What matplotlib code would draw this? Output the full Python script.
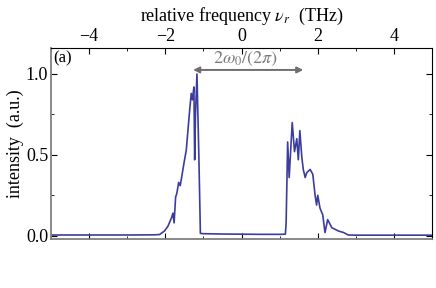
import numpy as np
import matplotlib
matplotlib.use("Agg")
import matplotlib.pyplot as plt

plt.rcParams['font.family'] = ['Liberation Serif', 'DejaVu Serif']
plt.rcParams['mathtext.fontset'] = 'stix'

# spectrum: relative frequency (THz) vs intensity (a.u.)
freq = [-5.0, -3.0, -2.3, -2.15, -2.02, -1.93, -1.84, -1.80, -1.77, -1.73, -1.70,
        -1.65, -1.61, -1.58, -1.51, -1.45, -1.40, -1.36, -1.32, -1.29, -1.25,
        -1.23, -1.21, -1.17, -1.12, -1.08, -1.0, -0.5, 0.0, 0.5, 1.0, 1.15,
        1.17, 1.21, 1.25, 1.33, 1.39, 1.45, 1.49, 1.53, 1.58, 1.62, 1.67, 1.71,
        1.80, 1.87, 1.93, 1.97, 2.00, 2.06, 2.13, 2.19, 2.26, 2.37, 2.54, 2.68,
        2.80, 3.0, 4.0, 5.0]
intensity = [0.005, 0.005, 0.006, 0.008, 0.03, 0.06, 0.11, 0.14, 0.08, 0.24, 0.26,
             0.33, 0.31, 0.35, 0.45, 0.53, 0.67, 0.78, 0.88, 0.84, 0.92,
             0.47, 0.74, 1.0, 0.49, 0.015, 0.013, 0.011, 0.01, 0.009, 0.009, 0.01,
             0.08, 0.58, 0.36, 0.70, 0.52, 0.60, 0.47, 0.65, 0.49, 0.41, 0.36, 0.39,
             0.41, 0.38, 0.25, 0.19, 0.25, 0.17, 0.13, 0.02, 0.10, 0.05, 0.03, 0.02,
             0.005, 0.004, 0.004, 0.004]

fig = plt.figure(figsize=(4.36, 2.88), dpi=100)
ax = fig.add_axes([0.117, 0.170, 0.874, 0.663])

ax.plot(freq, intensity, color='#3b3d9e', lw=1.2)

ax.set_xlim(-5, 5)
ax.set_ylim(-0.02, 1.16)

ax.xaxis.tick_top()
ax.xaxis.set_label_position('top')
ax.set_xticks([-4, -2, 0, 2, 4])
ax.set_xticklabels(['\u22124', '\u22122', '0', '2', '4'])
ax.set_xticks(np.arange(-5, 6, 1), minor=True)
ax.set_yticks([0.0, 0.5, 1.0])
ax.set_yticklabels(['0.0', '0.5', '1.0'])
ax.set_yticks([0.25, 0.75], minor=True)
ax.tick_params(which='both', direction='in', top=True, bottom=True,
               left=True, right=True, labelsize=13, pad=2)
ax.tick_params(which='major', length=4)
ax.tick_params(which='minor', length=2.5)

for s in ['left', 'bottom']:
    ax.spines[s].set_color('#808080')
    ax.spines[s].set_linewidth(1.3)
for s in ['top', 'right']:
    ax.spines[s].set_linewidth(0.8)

ax.set_xlabel(r'relative frequency $\nu_r$  (THz)', fontsize=13, labelpad=5)
ax.set_ylabel('intensity  (a.u.)', fontsize=13, labelpad=1)

ax.text(0.005, 0.99, '(a)', transform=ax.transAxes, fontsize=12,
        ha='left', va='top')

ax.annotate('', xy=(-1.27, 1.025), xytext=(1.62, 1.025),
            arrowprops=dict(arrowstyle='<|-|>', color='#6e6e6e', lw=1.4,
                            mutation_scale=9, shrinkA=0, shrinkB=0))
ax.text(0.1, 1.035, r'$2\omega_0/(2\pi)$', fontsize=13, color='#7a7a7a',
        ha='center', va='bottom')

fig.savefig('out.png', dpi=100)
